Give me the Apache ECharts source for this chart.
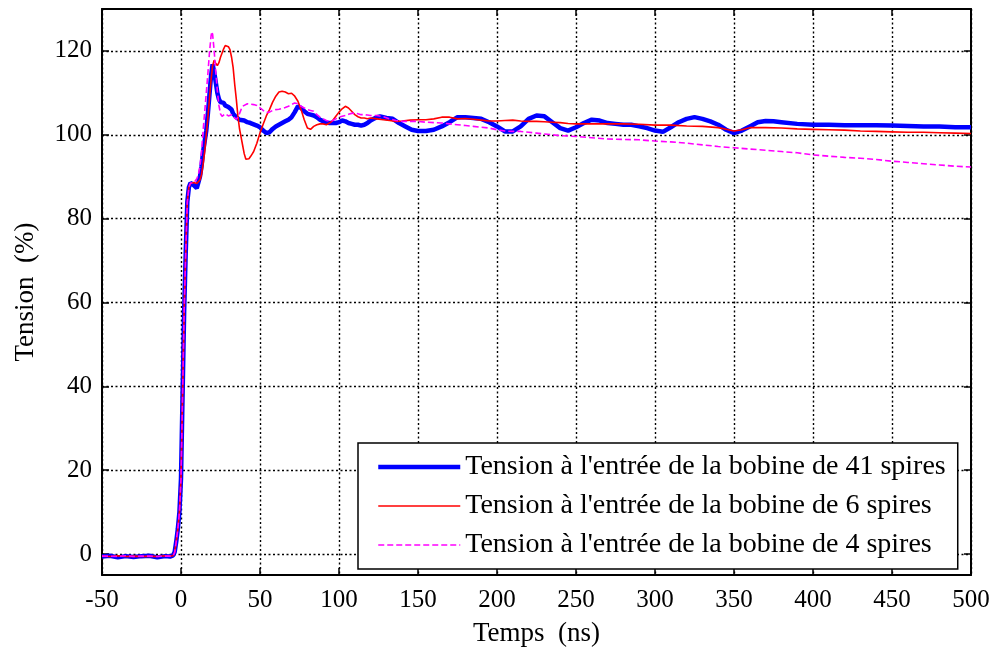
<!DOCTYPE html>
<html>
<head>
<meta charset="utf-8">
<script src="https://cdn.jsdelivr.net/npm/echarts@6/dist/echarts.min.js"></script>
<style>
  html, body { margin: 0; padding: 0; background: #fff; }
  #chart { width: 994px; height: 653px; }
</style>
</head>
<body>
<div id="chart"></div>
<script>
// Tension à l'entrée des bobines (en % de la tension finale) en fonction du temps (ns)

const xTicks = [-50, 0, 50, 100, 150, 200, 250, 300, 350, 400, 450, 500];
const yTicks = [0, 20, 40, 60, 80, 100, 120];

const seriesNames = [
  "Tension à l'entrée de la bobine de 41 spires",
  "Tension à l'entrée de la bobine de 6 spires",
  "Tension à l'entrée de la bobine de 4 spires"
];

// Bobine de 41 spires
const time41 = [-50,-45,-40,-35,-30,-25,-20,-15,-10,-7,-5,-4,-3,-2,-1,0,0.5,1,2,3,4,5,6,7,8,9,10,11,12,13,14,15,16,17,18,19,20,21,22,23,24,25,26,27,28,29,30,31,32,33,34,35,36,37,38,40,42,44,46,48,50,52,54,56,58,60,62,64,66,68,70,72,74,76,78,80,82,84,86,88,90,92,94,96,98,100,102,104,106,108,110,112,114,116,118,120,122,124,126,128,130,134,138,142,146,150,155,160,165,170,175,180,185,190,195,200,205,210,215,220,225,230,235,240,245,250,255,260,265,270,275,280,285,290,295,300,305,310,315,320,325,330,335,340,345,350,355,360,365,370,375,380,390,400,410,420,430,440,450,460,470,480,490,500];
const tension41 = [-0.6,-0.4,-0.8,-0.5,-0.7,-0.5,-0.4,-0.8,-0.5,-0.6,-0.3,0.5,3,6,10,18,28,38,58,72,84,87.5,88.5,88.5,88,88.2,87.3,87.6,90,92.5,96,98.5,101,105,109.5,114,116.8,115,112.5,110,108.5,107.8,107.4,107.6,107,107.2,106.6,106.8,106,105,104.6,104.2,103.9,103.6,104,103.4,103,102.8,102.5,102.2,101.8,101,100.4,100.6,101.4,102,102.4,102.8,103.2,103.6,104.2,105.4,106.8,106.4,105.6,105,104.8,104.6,104.2,103.6,103.2,102.9,102.8,102.8,102.8,103,103.4,103.2,102.8,102.6,102.4,102.4,102.2,102.4,102.8,103.4,103.8,104.2,104.4,104.2,104,103.8,102.8,102,101.2,100.9,100.9,101.2,102,103,104.2,104.2,104,103.8,103,102,100.8,100.8,102,103.8,104.6,104.4,103,101.6,101,101.8,102.8,103.6,103.4,102.8,102.6,102.4,102.4,102,101.6,101,100.7,101.8,103,103.8,104.2,103.8,103.2,102.4,101.2,100.4,101,102,103,103.3,103.2,103,102.6,102.4,102.4,102.3,102.3,102.3,102.2,102.1,102,102,101.8,101.8];

// Bobine de 6 spires
const time6 = [-50,-45,-40,-35,-30,-25,-20,-15,-10,-7,-5,-4,-3,-2,-1,0,0.5,1,2,3,4,5,6,7,8,9,10,11,12,13,14,15,16,17,18,19,20,21,22,23,24,25,26,27,28,29,30,31,32,33,34,35,36,37,38,39,40,41,42,43,44,45,46,48,50,52,54,56,58,60,62,64,66,68,70,72,74,76,78,80,82,84,86,88,90,92,94,96,98,100,102,104,106,108,110,112,114,116,118,120,124,128,132,136,140,145,150,155,160,165,170,175,180,185,190,195,200,205,210,215,220,225,230,235,240,245,250,255,260,270,280,290,300,310,320,330,340,345,350,355,360,370,380,390,400,410,420,430,440,450,460,470,480,490,500];
const tension6 = [-0.5,-0.6,-0.4,-0.6,-0.5,-0.6,-0.5,-0.6,-0.4,-0.5,-0.4,0.4,3,6,10,18,28,38,58,72,84,87.5,88.4,88.6,88.6,88.6,88.4,88.6,89.2,90.5,93,96,100,104,108.5,113,116.5,117.8,117,116.5,117.2,118.5,119.5,120.5,121.3,121.5,121,120.3,118.5,116,112,108.5,104.5,101.5,99.5,97.5,95.5,94.2,93.8,94.3,94.8,95.4,96,98,100.4,102.5,104.5,106,107.8,109.2,110.2,110.4,110.2,109.8,109.9,109.2,108,106,103.6,101.6,101.3,102,102.4,102.6,102.6,102.4,102.8,103.4,104.4,105.4,106.2,106.8,106.4,105.6,104.8,104.3,104,104,103.8,104,103.8,103.6,103.4,103.2,103.3,103.5,103.6,103.6,103.8,104.2,104.2,103.8,103.9,103.7,103.5,103.3,103.3,103.4,103.5,103.3,103.2,103.2,103.1,103,102.9,102.7,102.6,102.6,102.6,102.6,102.6,102.5,102.3,102.3,102.1,102,101.7,101.3,100.9,101.2,101.7,101.7,101.6,101.4,101.3,101.2,101.1,100.9,100.8,100.7,100.6,100.6,100.5,100.4,100.3];

// Bobine de 4 spires
const time4 = [-50,-45,-40,-35,-30,-25,-20,-15,-10,-7,-5,-4,-3,-2,-1,0,0.5,1,2,3,4,5,6,7,8,9,10,11,12,13,14,15,16,17,18,19,19.5,20,21,22,23,24,25,26,27,28,29,30,31,32,33,34,35,36,37,38,39,40,42,44,46,48,50,52,54,56,58,60,62,64,66,68,70,72,74,76,78,80,82,84,86,88,90,92,94,96,98,100,102,104,106,108,110,112,114,116,118,120,124,128,132,136,140,145,150,155,160,165,170,175,180,185,190,195,200,205,210,215,220,225,230,235,240,245,250,260,270,280,290,300,310,320,330,340,350,360,370,380,390,400,410,420,430,440,450,460,470,480,490,500];
const tension4 = [-0.5,-0.5,-0.6,-0.4,-0.6,-0.5,-0.5,-0.6,-0.5,-0.5,-0.4,0.4,3,6,10,18,28,38,58,72,84,87.5,88.5,88.5,88.5,89,89.5,90.5,92.5,96,101,105.5,110,114.5,119.5,123.5,124.6,124,120,115,110.5,107,105,104.4,104.6,105,104.8,104.5,104.4,104.8,104.3,103.9,103.7,104.2,105,106,106.8,107.2,107.4,107.3,107.2,107,106.4,105.8,105.3,105.4,105.8,106,106.1,106.3,106.5,106.8,107.2,107.6,107.4,106.8,106.4,106,105.8,105.6,104.8,104.2,103.8,103.4,103.2,103.4,103.8,104.2,104.4,104.6,104.9,105.1,105.2,105,104.8,104.8,104.7,104.6,104.6,104.3,103.8,103.4,103.2,103.2,103.2,103,102.9,102.8,102.6,102.4,102.2,102,101.8,101.6,101.2,100.9,100.8,100.8,100.6,100.4,100.2,100,99.8,99.7,99.6,99.3,99,98.9,98.8,98.5,98.3,98,97.6,97.2,96.9,96.6,96.3,96,95.7,95.2,94.9,94.6,94.4,94.1,93.7,93.4,93.1,92.8,92.5,92.3];

const pairs = (xs, ys) => xs.map((x, i) => [x, ys[i]]);

const FONT = 'Liberation Serif';
const gridDots = { color: '#000', width: 1.4, type: [2, 2.5] };
const lineStyles = [
  { color: '#0000ff', width: 4.5 },
  { color: '#ff0000', width: 1.6 },
  { color: '#ff00ff', width: 1.6, type: [6, 3] }
];

const chart = echarts.init(document.getElementById('chart'), null, { renderer: 'canvas' });

const baseX = {
  type: 'value', min: -50, max: 500, interval: 50,
  axisLine: { show: true, onZero: false, lineStyle: { color: '#000', width: 2 } },
  axisTick: { show: true, inside: true, length: 7, lineStyle: { color: '#000', width: 1.5 } }
};
const baseY = {
  type: 'value', min: -5, max: 130,
  axisLine: { show: true, onZero: false, lineStyle: { color: '#000', width: 2 } },
  axisTick: { show: true, inside: true, length: 7, customValues: yTicks, lineStyle: { color: '#000', width: 1.5 } }
};

chart.setOption({
  animation: false,
  backgroundColor: '#fff',
  grid: { left: 102, right: 23, top: 9, bottom: 78, containLabel: false },
  xAxis: [
    Object.assign({}, baseX, {
      position: 'bottom',
      name: 'Temps  (ns)', nameLocation: 'middle', nameGap: 45,
      nameTextStyle: { fontFamily: FONT, fontSize: 27, color: '#000' },
      axisLabel: { show: true, margin: 13, fontFamily: FONT, fontSize: 25, color: '#000',
        customValues: xTicks },
      splitLine: { show: true, lineStyle: gridDots }
    }),
    Object.assign({}, baseX, {
      position: 'top', axisLabel: { show: false }, splitLine: { show: false }
    })
  ],
  yAxis: [
    Object.assign({}, baseY, {
      position: 'left',
      name: 'Tension  (%)', nameLocation: 'middle', nameGap: 63, nameRotate: 90,
      nameTextStyle: { fontFamily: FONT, fontSize: 27, color: '#000' },
      axisLabel: { show: true, margin: 10, fontFamily: FONT, fontSize: 25, color: '#000',
        customValues: yTicks },
      splitLine: { show: true, lineStyle: gridDots }
    }),
    Object.assign({}, baseY, {
      position: 'right', axisLabel: { show: false }, splitLine: { show: false }
    })
  ],
  legend: {
    orient: 'vertical',
    left: 358, top: 443,
    backgroundColor: '#fff',
    borderColor: '#000', borderWidth: 1.5, borderRadius: 0,
    padding: [10, 12, 10, 18],
    itemWidth: 82, itemHeight: 14, itemGap: 11,
    itemStyle: { color: 'rgba(0,0,0,0)', borderColor: 'rgba(0,0,0,0)', borderWidth: 0 },
    textStyle: { fontFamily: FONT, fontSize: 28, color: '#000', lineHeight: 28 },
    data: seriesNames.map((name, i) => ({ name, lineStyle: lineStyles[i] }))
  },
  series: seriesNames.map((name, i) => ({
    name, type: 'line', xAxisIndex: 0, yAxisIndex: 0,
    data: pairs([time41, time6, time4][i], [tension41, tension6, tension4][i]),
    showSymbol: false, symbol: 'none',
    lineStyle: lineStyles[i], itemStyle: { color: lineStyles[i].color }, z: 3 + i
  }))
});
</script>
</body>
</html>
